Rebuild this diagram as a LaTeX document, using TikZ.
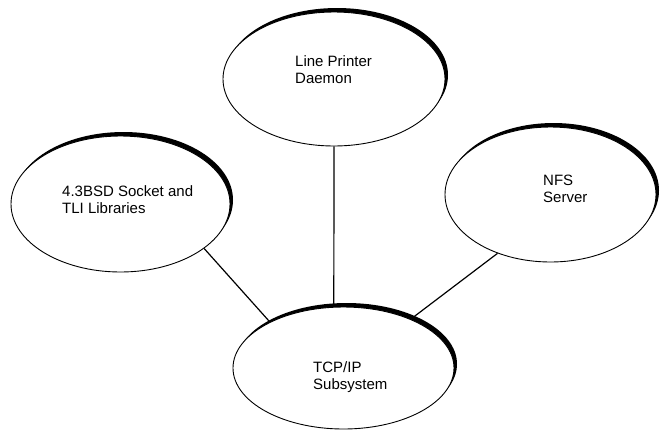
\documentclass[tikz,border=0pt]{standalone}
\usepackage{fontspec}
\setmainfont{Liberation Sans}
\usetikzlibrary{shapes.geometric,shadows}

\tikzset{
  part/.style = {shape = ellipse, draw = black, line width = 0.9pt, fill = white,
    inner sep = 0pt,
    general shadow = {fill = black, shadow xshift = 3pt, shadow yshift = 4pt}},
  caption/.style = {align = left, anchor = west, inner sep = 0pt,
    font = \fontsize{15}{17}\selectfont},
  link/.style = {line width = 1.2pt},
}

\begin{document}
\begin{tikzpicture}[x = 1pt, y = -1pt]
        \useasboundingbox (0, 0) rectangle (661, 440);

        \node[part, minimum width = 222pt, minimum height = 134pt] at (334, 79) (lpd) {};
        \node[caption] at (295, 69.5) (lpdtext) {Line Printer\\Daemon};

        \node[part, minimum width = 219pt, minimum height = 136pt] at (120.5, 204) (bsd) {};
        \node[caption] at (62, 200) (bsdtext) {4.3BSD Socket and\\TLI Libraries};

        \node[part, minimum width = 211pt, minimum height = 135pt] at (550.5, 194.5) (nfs) {};
        \node[caption] at (543, 188.5) (nfstext) {NFS\\Server};

        % ------------------------------------------------------------------------
        % Subsystem
        \node[part, minimum width = 221pt, minimum height = 122pt] at (343.5, 368) (tcp) {};
        \node[caption] at (313, 377.5) (tcptext) {TCP/IP\\Subsystem};

        \draw[link]
          (bsd.-28) edge (tcp.148)
          (lpd.south) edge (tcp.99)
          (nfs.-132) edge (tcp.36)
        ;
      \end{tikzpicture}
\end{document}
